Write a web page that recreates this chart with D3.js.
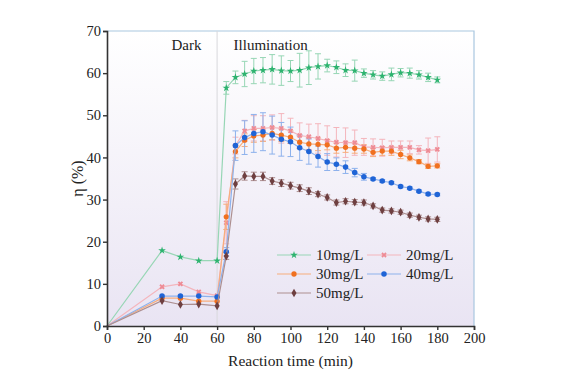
<!DOCTYPE html>
<html>
<head>
<meta charset="utf-8">
<script src="https://cdn.jsdelivr.net/npm/d3@7"></script>
<style>
  body { margin: 0; background: #fff; }
  svg { display: block; }
</style>
</head>
<body>
<div id="vis-container"></div>
<script>
const width = 580;
const height = 389;
const margin = { top: 31, right: 106, bottom: 63, left: 107 };

// time points (min)
const times = [0, 30, 40, 50, 60, 65, 70, 75, 80, 85, 90, 95, 100, 105, 110, 115, 120,
  125, 130, 135, 140, 145, 150, 155, 160, 165, 170, 175, 180];

const names = ["10mg/L", "20mg/L", "30mg/L", "40mg/L", "50mg/L"];

const eta10 = [0, 17.9, 16.4, 15.5, 15.5, 56.5, 59.0, 59.8, 60.5, 60.7, 60.9, 60.6, 60.5, 60.7,
  61.3, 61.6, 61.8, 61.4, 60.7, 60.6, 60.0, 59.6, 59.3, 59.7, 60.1, 60.0, 59.6, 59.0, 58.4];
const err10 = [0, 0, 0, 0, 0, 1.5, 1.5, 3, 3, 3, 3.5, 3.5, 2.5, 4, 4, 3, 1.5, 1.5, 1.5, 2.5,
  1, 1, 1, 1.5, 1, 1.2, 1, 1, 0.7];

const eta20 = [0, 9.3, 10.0, 8.1, 7.2, 24.5, 42.8, 46.3, 46.9, 46.9, 47.1, 46.9, 46.3, 45.2,
  44.9, 44.5, 44.0, 43.6, 43.5, 43.5, 42.5, 42.4, 42.3, 42.4, 42.4, 42.4, 41.8, 41.6, 41.9];
const err20 = [0, 0, 0, 0, 0, 5, 2, 2.5, 3, 3, 3, 3.5, 3, 3, 3, 3.5, 3.5, 3.5, 3.5, 3,
  2, 2, 2, 1.5, 1.5, 1.5, 1, 3, 3];

const eta30 = [0, 6.6, 6.6, 5.9, 5.9, 25.9, 41.4, 44.1, 45.1, 45.3, 45.7, 45.3, 44.8, 43.6,
  43.2, 43.1, 43.0, 42.2, 42.4, 42.2, 42.0, 41.2, 41.5, 41.5, 40.7, 39.9, 39.0, 37.9, 38.0];
const err30 = [0, 0, 0, 0, 0, 3, 1.5, 1.5, 1.5, 1.5, 1.5, 1.5, 1.5, 1.5, 1.5, 1.5, 1.2, 1.2,
  1.2, 1.2, 1, 1, 1, 1, 1, 0.7, 0.5, 0.5, 0.5];

const eta40 = [0, 7.1, 7.1, 7.1, 6.9, 17.6, 42.8, 44.7, 45.7, 46.1, 45.3, 44.3, 43.7, 42.3,
  41.4, 40.2, 38.9, 38.4, 37.7, 36.4, 35.4, 34.9, 34.4, 34.0, 33.1, 32.7, 32.0, 31.3, 31.2];
const err40 = [0, 0, 0, 0, 0, 1, 3.5, 4, 4.5, 4.5, 4.5, 4, 3.5, 3, 3, 2.5, 2, 1.5, 1.5, 1,
  0.8, 0.3, 0.3, 0.3, 0.3, 0.3, 0.3, 0.3, 0.3];

const eta50 = [0, 6.0, 5.1, 5.2, 4.8, 16.6, 33.7, 35.6, 35.5, 35.5, 34.4, 33.9, 33.3, 32.7,
  32.0, 31.3, 30.5, 29.3, 29.6, 29.4, 29.3, 28.5, 27.5, 27.3, 27.0, 26.3, 25.8, 25.4, 25.3];
const err50 = [0, 0, 0, 0, 0, 0.8, 1.2, 1, 1, 1, 0.8, 0.8, 0.8, 0.8, 0.8, 0.6, 0.6, 0.6,
  0.6, 0.6, 0.6, 0.5, 0.5, 0.5, 0.5, 0.5, 0.5, 0.5, 0.5];

const xTicks = [0, 20, 40, 60, 80, 100, 120, 140, 160, 180, 200];
const yTicks = [0, 10, 20, 30, 40, 50, 60, 70];

const markColors = ["#2db36f", "#ee8b95", "#f07020", "#1f64d6", "#6e3f40"];
const lineColors = ["#97d6b5", "#f4b5bc", "#f7ad7c", "#8db1ec", "#ad8f90"];
const symbols = [d3.symbolStar, d3.symbolCross, d3.symbolCircle, d3.symbolCircle, d3.symbolDiamond];
const symSizes = [18, 18, 22, 24, 22];

const allErr = [err10, err20, err30, err40, err50];
const series = [eta10, eta20, eta30, eta40, eta50].map((vals, k) => ({
  name: names[k],
  k: k,
  pts: times.map((t, i) => ({ t: t, v: vals[i], e: allErr[k][i] }))
}));

const svg = d3.select("#vis-container")
  .append("svg")
  .attr("width", width)
  .attr("height", height);

const x = d3.scaleLinear().domain([0, 200]).range([margin.left, width - margin.right]);
const y = d3.scaleLinear().domain([0, 70]).range([height - margin.bottom, margin.top]);

// plot background gradient
const grad = svg.append("defs").append("linearGradient")
  .attr("id", "bg").attr("x1", 0).attr("y1", 0).attr("x2", 0).attr("y2", 1);
grad.append("stop").attr("offset", "0%").attr("stop-color", "#ffffff");
grad.append("stop").attr("offset", "100%").attr("stop-color", "#e9e4f3");

svg.append("rect")
  .attr("x", x(0)).attr("y", y(70))
  .attr("width", x(200) - x(0)).attr("height", y(0) - y(70))
  .attr("fill", "url(#bg)");

// frame top / right
svg.append("path")
  .attr("d", `M${x(0)},${y(70)}H${x(200)}V${y(0)}`)
  .attr("fill", "none").attr("stroke", "#a9c7df").attr("stroke-width", 1.2);

// dark / light divider
svg.append("line")
  .attr("x1", x(60)).attr("x2", x(60)).attr("y1", y(70)).attr("y2", y(0))
  .attr("stroke", "#d8d8dc").attr("stroke-width", 1);

svg.append("text").attr("x", x(51.5)).attr("y", 50)
  .attr("text-anchor", "end")
  .style("font-family", "Liberation Serif").style("font-size", "15px").attr("fill", "#222")
  .text("Dark");
svg.append("text").attr("x", x(69)).attr("y", 50)
  .style("font-family", "Liberation Serif").style("font-size", "15px").attr("fill", "#222")
  .text("Illumination");

const line = d3.line().x(d => x(d.t)).y(d => y(d.v));

const g = svg.append("g");

series.forEach(s => {
  // error bars
  const eb = g.append("g").attr("stroke", lineColors[s.k]).attr("stroke-width", 1);
  s.pts.filter(d => d.e > 0).forEach(d => {
    eb.append("line").attr("x1", x(d.t)).attr("x2", x(d.t)).attr("y1", y(d.v - d.e)).attr("y2", y(d.v + d.e));
    eb.append("line").attr("x1", x(d.t) - 3).attr("x2", x(d.t) + 3).attr("y1", y(d.v - d.e)).attr("y2", y(d.v - d.e));
    eb.append("line").attr("x1", x(d.t) - 3).attr("x2", x(d.t) + 3).attr("y1", y(d.v + d.e)).attr("y2", y(d.v + d.e));
  });
});

series.forEach(s => {
  g.append("path").datum(s.pts)
    .attr("d", line)
    .attr("fill", "none")
    .attr("stroke", lineColors[s.k])
    .attr("stroke-width", 1.2);

  g.selectAll(null).data(s.pts.filter(d => d.t > 0)).enter()
    .append("path")
    .attr("transform", d => `translate(${x(d.t)},${y(d.v)})` + (s.k === 1 ? " rotate(45)" : ""))
    .attr("d", d3.symbol().type(symbols[s.k]).size(symSizes[s.k]))
    .attr("fill", markColors[s.k]);
});

// axes
const xAxis = svg.append("g")
  .attr("transform", `translate(0,${y(0)})`)
  .call(d3.axisBottom(x).tickValues(xTicks).tickSize(4).tickPadding(3));
const yAxis = svg.append("g")
  .attr("transform", `translate(${x(0)},0)`)
  .call(d3.axisLeft(y).tickValues(yTicks).tickSize(4).tickPadding(2));

[xAxis, yAxis].forEach(a => {
  a.select(".domain").attr("stroke", "#333").attr("stroke-width", 1.6);
  a.selectAll(".tick line").attr("stroke", "#333").attr("stroke-width", 1.4);
  a.selectAll(".tick text")
    .style("font-family", "Liberation Serif").style("font-size", "14.5px").attr("fill", "#222");
});

svg.append("text")
  .attr("x", x(100)).attr("y", 366)
  .attr("text-anchor", "middle")
  .style("font-family", "Liberation Serif").style("font-size", "15.5px").attr("fill", "#222")
  .text("Reaction time (min)");

svg.append("text")
  .attr("transform", `translate(83,${y(35)}) rotate(-90)`)
  .attr("text-anchor", "middle")
  .style("font-family", "Liberation Serif").style("font-size", "16px").attr("fill", "#222")
  .text("η (%)");

// legend
const legendPos = [[277, 255], [367, 255], [277, 274], [367, 274], [277, 293]];
series.forEach(s => {
  const [lx, ly] = legendPos[s.k];
  const lg = svg.append("g").attr("transform", `translate(${lx},${ly})`);
  lg.append("line").attr("x1", 0).attr("x2", 34).attr("y1", 0).attr("y2", 0)
    .attr("stroke", lineColors[s.k]).attr("stroke-width", 1.2);
  lg.append("path")
    .attr("transform", "translate(17,0)" + (s.k === 1 ? " rotate(45)" : ""))
    .attr("d", d3.symbol().type(symbols[s.k]).size(symSizes[s.k]))
    .attr("fill", markColors[s.k]);
  lg.append("text").attr("x", 39).attr("y", 5)
    .style("font-family", "Liberation Serif").style("font-size", "15px").attr("fill", "#222")
    .text(s.name);
});
</script>
</body>
</html>
